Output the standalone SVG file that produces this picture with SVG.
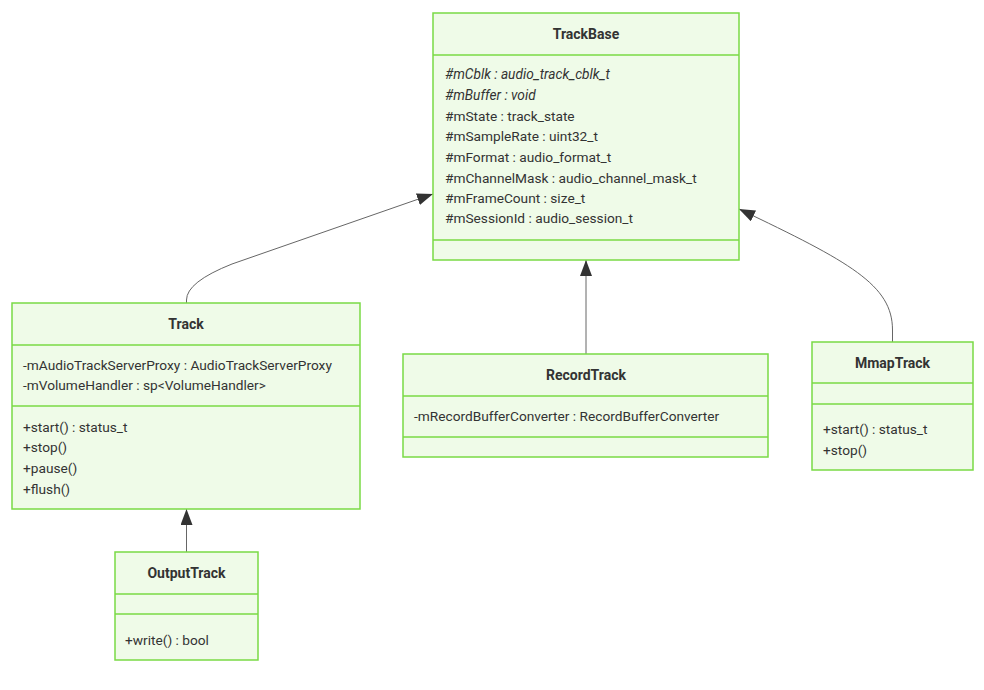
<svg xmlns="http://www.w3.org/2000/svg" width="984" height="690" viewBox="0 0 984 690">
<style>
.box{fill:#effbe8;stroke:#7ada45;stroke-width:1.5}
.div{stroke:#7ada45;stroke-width:1.5}
text{font-family:Roboto,"Liberation Sans",sans-serif;font-size:13.7px;fill:#333}
.t{font-weight:bold;text-anchor:middle;font-size:14px}
.i{font-style:italic}
.e{fill:none;stroke:#666;stroke-width:1}
</style>
<defs>
<marker id="arr" markerUnits="userSpaceOnUse" markerWidth="18" markerHeight="14" refX="16" refY="6" orient="auto">
<path d="M0,0 L16,6 L0,12 z" fill="#333"/>
</marker>
</defs>
<rect width="984" height="690" fill="#fff"/>
<g id="connectors">
<path class="e" d="M186.5,303 L186.5,300 Q186.5,282 232,264 L433,194" marker-end="url(#arr)"/>
<path class="e" d="M586,354 L586,260" marker-end="url(#arr)"/>
<path class="e" d="M892.5,342 L892.5,330 C892.5,285 850,262 739,209" marker-end="url(#arr)"/>
<path class="e" d="M186.5,552 L186.5,509" marker-end="url(#arr)"/>
</g>
<g id="TrackBase">
<rect class="box" x="433" y="13" width="306" height="247"/>
<line class="div" x1="433" y1="55" x2="739" y2="55"/>
<line class="div" x1="433" y1="240" x2="739" y2="240"/>
<text class="t" x="586" y="39">TrackBase</text>
<text class="i" x="445" y="79">#mCblk : audio_track_cblk_t</text>
<text class="i" x="445" y="100">#mBuffer : void</text>
<text x="445" y="121">#mState : track_state</text>
<text x="445" y="141">#mSampleRate : uint32_t</text>
<text x="445" y="162">#mFormat : audio_format_t</text>
<text x="445" y="183">#mChannelMask : audio_channel_mask_t</text>
<text x="445" y="203">#mFrameCount : size_t</text>
<text x="445" y="223">#mSessionId : audio_session_t</text>
</g>
<g id="Track">
<rect class="box" x="12" y="303" width="348" height="206"/>
<line class="div" x1="12" y1="345" x2="360" y2="345"/>
<line class="div" x1="12" y1="406" x2="360" y2="406"/>
<text class="t" x="186" y="329">Track</text>
<text x="23" y="370">-mAudioTrackServerProxy : AudioTrackServerProxy</text>
<text x="23" y="390">-mVolumeHandler : sp&lt;VolumeHandler&gt;</text>
<text x="23" y="432">+start() : status_t</text>
<text x="23" y="452">+stop()</text>
<text x="23" y="473">+pause()</text>
<text x="23" y="494">+flush()</text>
</g>
<g id="RecordTrack">
<rect class="box" x="403" y="354" width="365" height="103"/>
<line class="div" x1="403" y1="396" x2="768" y2="396"/>
<line class="div" x1="403" y1="437" x2="768" y2="437"/>
<text class="t" x="586" y="380">RecordTrack</text>
<text x="414" y="421">-mRecordBufferConverter : RecordBufferConverter</text>
</g>
<g id="MmapTrack">
<rect class="box" x="812" y="342" width="161" height="128"/>
<line class="div" x1="812" y1="383" x2="973" y2="383"/>
<line class="div" x1="812" y1="404" x2="973" y2="404"/>
<text class="t" x="892.5" y="368">MmapTrack</text>
<text x="823" y="434">+start() : status_t</text>
<text x="823" y="455">+stop()</text>
</g>
<g id="OutputTrack">
<rect class="box" x="115" y="552" width="143" height="108"/>
<line class="div" x1="115" y1="594" x2="258" y2="594"/>
<line class="div" x1="115" y1="614" x2="258" y2="614"/>
<text class="t" x="186.5" y="578">OutputTrack</text>
<text x="125" y="645">+write() : bool</text>
</g>
</svg>
